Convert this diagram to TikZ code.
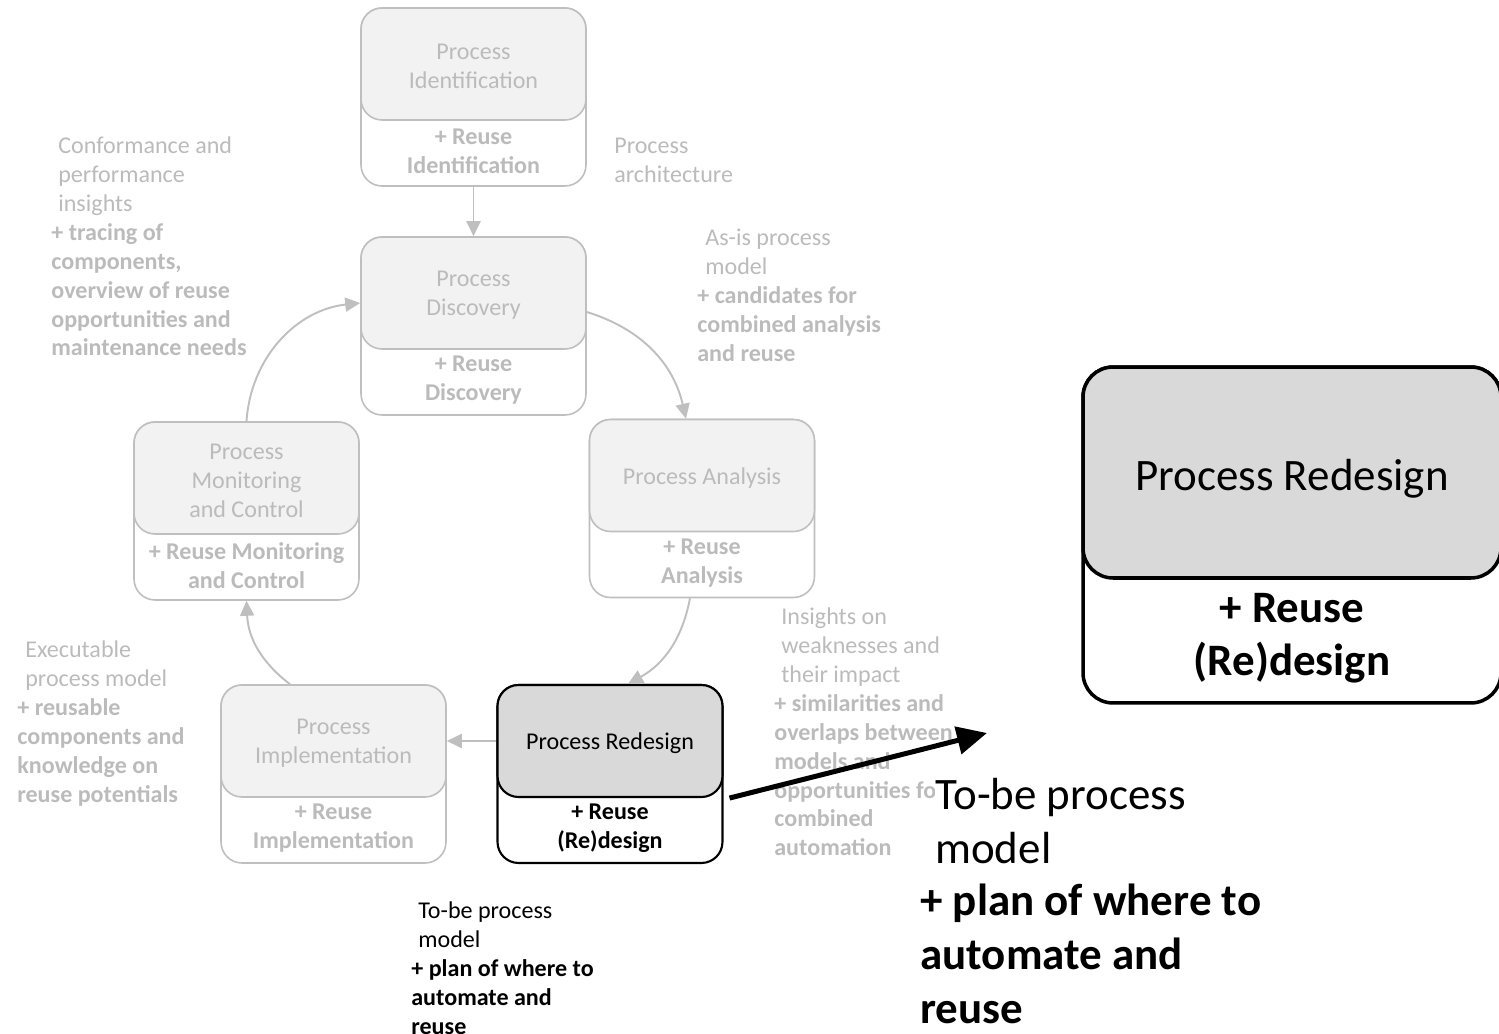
\documentclass[tikz,border=0pt]{standalone}
\usepackage{fontspec}
\setmainfont{Carlito}
\usetikzlibrary{positioning, calc, arrows.meta}
\definecolor{boxgray}{HTML}{BFBFBF}
\definecolor{topgray}{HTML}{F2F2F2}
\definecolor{notegray}{HTML}{BBBBBB}
\definecolor{redesigngray}{HTML}{D9D9D9}

\begin{document}
\begin{tikzpicture}[x=0.02cm, y=-0.02cm, >={Triangle[length=0.3cm,width=0.28cm]},
  phase/.style={draw=boxgray, line width=0.9pt, rounded corners=0.42cm, fill=white, minimum width=4.5cm, minimum height=3.56cm},
  phasetop/.style={draw=boxgray, line width=0.9pt, rounded corners=0.42cm, fill=topgray, minimum width=4.5cm, minimum height=2.24cm, anchor=north},
  boxtext/.style={text=notegray, align=center, font=\fontsize{13.7}{16.5}\selectfont},
  phasetext/.style={boxtext, yshift=-0.05cm},
  reusetext/.style={boxtext, yshift=0.05cm, font=\fontsize{13.7}{16.5}\selectfont\bfseries},
  note/.style={text=notegray, align=left, anchor=north west, inner sep=0pt, font=\fontsize{13.7}{16.5}\selectfont},
  bignote/.style={note, text=black, font=\fontsize{25.6}{30.7}\selectfont},
  flow/.style={->, draw=boxgray, line width=1.1pt},
]
\useasboundingbox (0,0) rectangle (1499,1034);

% Lifecycle phases
\foreach \name/\x/\y/\toptext/\reuse in {
  ident/473.5/97/{Process\\Identification}/{+ Reuse\\Identification},
  disc/473.5/326/{Process\\Discovery}/{+ Reuse\\Discovery},
  anal/702/508.5/{Process Analysis}/{+ Reuse\\Analysis},
  impl/333.5/774/{Process\\Implementation}/{+ Reuse\\Implementation},
  monit/246.5/511/{Process\\Monitoring\\and Control}/{+ Reuse Monitoring\\and Control}}
{
  \node[phase] (\name) at (\x,\y) {};
  \node[phasetop] (\name-top) at (\name.north) {};
  \node[phasetext] at (\name-top) {\toptext};
  \node[reusetext] at ($(\name-top.south)!0.5!(\name.south)$) {\reuse};
}

% Redesign phase (highlighted)
\node[phase, draw=black, line width=1.2pt] (redes) at (610,774) {};
\node[phasetop, draw=black, line width=1.2pt, fill=redesigngray] (redes-top) at (redes.north) {};
\node[phasetext, text=black] at (redes-top) {Process Redesign};
\node[reusetext, text=black] at ($(redes-top.south)!0.5!(redes.south)$) {+ Reuse\\(Re)design};

% Cycle arrows
\draw[flow] (ident) -- (disc);
\draw[flow] ([yshift=0.28cm]disc.east) to[bend left=30] ([xshift=-0.32cm]anal.north);
\draw[flow] ([xshift=-0.24cm]anal.south) to[bend left=25] ([xshift=0.36cm]redes.north);
\draw[flow] (redes-top) -- (impl-top);
\draw[flow] ([xshift=-0.87cm]impl.north) to[bend left=25] (monit.south);
\draw[flow] (monit.north) to[bend left=40] ([yshift=-0.2cm]disc-top.west);

% Outputs of the phases
\node[note] (confnote) at (51,136) {\hspace*{0.14cm}Conformance and\\\hspace*{0.14cm}performance\\\hspace*{0.14cm}insights\\\textbf{+ tracing of}\\\textbf{components,}\\\textbf{overview of reuse}\\\textbf{opportunities and}\\\textbf{maintenance needs}};
\node[note] (archnote) at (614,138) {Process\\architecture};
\node[note] (asisnote) at (697,229) {\hspace*{0.16cm}As-is process\\\hspace*{0.16cm}model\\\textbf{+ candidates for}\\\textbf{combined analysis}\\\textbf{and reuse}};
\node[note] (weaknote) at (774,607) {\hspace*{0.14cm}Insights on\\\hspace*{0.14cm}weaknesses and\\\hspace*{0.14cm}their impact\\\textbf{+ similarities and}\\\textbf{overlaps between}\\\textbf{models and}\\\textbf{opportunities for}\\\textbf{combined}\\\textbf{automation}};
\node[note] (execnote) at (17,640) {\hspace*{0.16cm}Executable\\\hspace*{0.16cm}process model\\\textbf{+ reusable}\\\textbf{components and}\\\textbf{knowledge on}\\\textbf{reuse potentials}};
\node[note, text=black] (tobenote) at (411,901) {\hspace*{0.14cm}To-be process\\\hspace*{0.14cm}model\\\textbf{+ plan of where to}\\\textbf{automate and}\\\textbf{reuse}};

% Zoomed view of the redesign phase
\node[phase, draw=black, line width=2pt, rounded corners=0.6cm, minimum width=8.36cm, minimum height=6.72cm] (bigredes) at (1292,535) {};
\node[phasetop, draw=black, line width=2pt, rounded corners=0.6cm, fill=redesigngray, minimum width=8.36cm, minimum height=4.22cm] (bigredes-top) at (bigredes.north) {};
\node[boxtext, text=black, yshift=-0.12cm, font=\fontsize{25.6}{30.7}\selectfont] at (bigredes-top) {Process Redesign};
\node[boxtext, text=black, yshift=0.08cm, font=\fontsize{25.6}{30.7}\selectfont\bfseries] at ($(bigredes-top.south)!0.5!(bigredes.south)$) {+ Reuse\\(Re)design};
\node[bignote, fill=white] (bigtobe) at (935,778) {To-be process\\model};
\node[bignote] (bigplan) at (920,884) {\textbf{+ plan of where to}\\\textbf{automate and}\\\textbf{reuse}};

\coordinate (zoomend) at (987,733);
\draw[-{Triangle[length=0.6cm,width=0.55cm]}, line width=0.1cm] ([xshift=0.12cm]redes-top.south east) -- (zoomend);
\end{tikzpicture}
\end{document}
